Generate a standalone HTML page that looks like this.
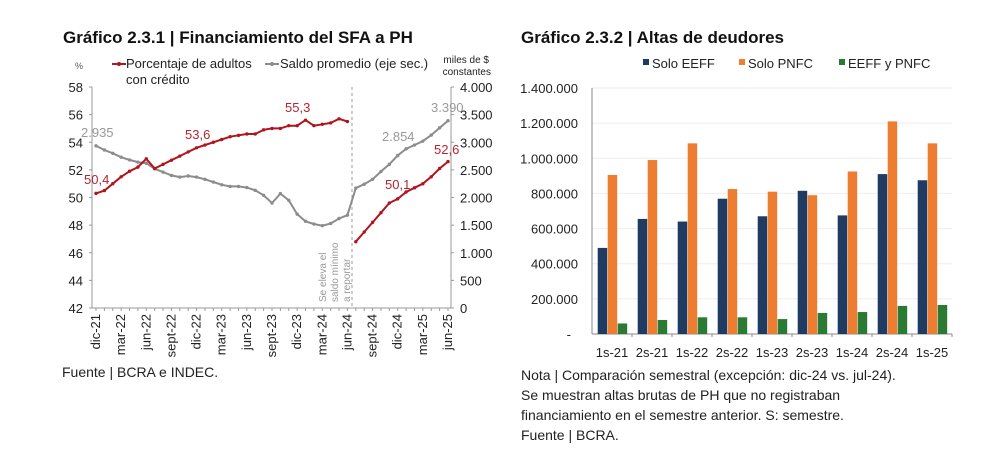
<!DOCTYPE html>
<html><head><meta charset="utf-8"><style>
body{margin:0;background:#fff;width:1008px;height:469px;overflow:hidden;font-family:"Liberation Sans",sans-serif}
svg{position:absolute;left:0;top:0}
</style></head><body>
<svg id="s" width="1008" height="469" xmlns="http://www.w3.org/2000/svg" font-family="Liberation Sans, sans-serif">
<text x="63" y="43" font-size="17" font-weight="bold" fill="#111">Gráfico 2.3.1 | Financiamiento del SFA a PH</text>
<text x="521" y="43" font-size="17" font-weight="bold" fill="#111">Gráfico 2.3.2 | Altas de deudores</text>
<g id="L"></g><g id="R"></g>
<text x="62" y="377" font-size="14" fill="#222">Fuente | BCRA e INDEC.</text>
<g font-size="14" fill="#222">
<text x="521" y="380">Nota | Comparación semestral (excepción: dic-24 vs. jul-24).</text>
<text x="521" y="400">Se muestran altas brutas de PH que no registraban</text>
<text x="521" y="420">financiamiento en el semestre anterior. S: semestre.</text>
<text x="521" y="440">Fuente | BCRA.</text>
</g>
</svg>
<script>
var NS="http://www.w3.org/2000/svg";
function el(p,t,a,txt){var e=document.createElementNS(NS,t);for(var k in a)e.setAttribute(k,a[k]);if(txt!=null)e.textContent=txt;p.appendChild(e);return e;}
var L=document.getElementById("L"),R=document.getElementById("R");
var x0=96,dx=(448-96)/42,yT=87,yB=308;
function yl(v){return yT+(58-v)*(yB-yT)/16;}
function yr(v){return yT+(4000-v)*(yB-yT)/4000;}
function xm(i){return x0+i*dx;}
el(L,"line",{x1:92,y1:yT,x2:92,y2:yB,stroke:"#999"});
el(L,"line",{x1:451,y1:yT,x2:451,y2:yB,stroke:"#999"});
el(L,"line",{x1:92,y1:yB,x2:451,y2:yB,stroke:"#999"});
for(var v=42;v<=58;v+=2){var y=yl(v);el(L,"line",{x1:89,y1:y,x2:92,y2:y,stroke:"#999"});el(L,"text",{x:83,y:y+5,"font-size":13,"text-anchor":"end",fill:"#222"},v);}
var rl=["0","500","1.000","1.500","2.000","2.500","3.000","3.500","4.000"];
for(var i=0;i<9;i++){var y=yr(i*500);el(L,"line",{x1:451,y1:y,x2:454,y2:y,stroke:"#999"});el(L,"text",{x:460,y:y+5,"font-size":13,fill:"#222"},rl[i]);}
for(var i=0;i<=42;i++)el(L,"line",{x1:xm(i),y1:yB,x2:xm(i),y2:yB+3,stroke:"#999"});
var ml=["dic-21","mar-22","jun-22","sept-22","dic-22","mar-23","jun-23","sept-23","dic-23","mar-24","jun-24","sept-24","dic-24","mar-25","jun-25"];
for(var i=0;i<ml.length;i++){var x=xm(i*3)+4;el(L,"text",{x:0,y:0,"font-size":13,"text-anchor":"end",fill:"#222",transform:"translate("+x+","+(yB+6)+") rotate(-90)"},ml[i]);}
el(L,"line",{x1:352,y1:yT,x2:352,y2:yB,stroke:"#999","stroke-dasharray":"3,3"});
var nt=["Se eleva el","saldo mínimo","a reportar"];
for(var i=0;i<3;i++)el(L,"text",{x:0,y:0,"font-size":10,fill:"#999",transform:"translate("+(326+i*12)+",302) rotate(-90)"},nt[i]);
var red1=[50.3,50.5,51.0,51.5,51.9,52.2,52.8,52.1,52.4,52.7,53.0,53.3,53.6,53.8,54.0,54.2,54.4,54.5,54.6,54.6,54.9,55.0,55.0,55.2,55.2,55.6,55.2,55.3,55.4,55.7,55.5];
var red2=[46.8,47.5,48.2,48.9,49.6,49.9,50.4,50.7,51.0,51.5,52.1,52.6];
var g1=[2935,2860,2800,2730,2680,2640,2620,2520,2460,2400,2370,2390,2370,2330,2280,2230,2200,2200,2180,2130,2040,1900,2070,1950,1700,1570,1520,1490,1530,1620,1680];
var g2=[2170,2240,2330,2470,2600,2760,2880,2950,3020,3130,3260,3390];
function line(arr,off,fy,col){var p=arr.map(function(v,i){return xm(i+off).toFixed(1)+","+fy(v).toFixed(1)}).join(" ");el(L,"polyline",{points:p,fill:"none",stroke:col,"stroke-width":2});arr.forEach(function(v,i){el(L,"circle",{cx:xm(i+off),cy:fy(v),r:1.7,fill:col});});}
line(g1.concat(g2),0,yr,"#8c8c8c");
line(red1,0,yl,"#b0141c");line(red2,31,yl,"#b0141c");
function lab(x,y,t,c){el(L,"text",{x:x,y:y,"font-size":13,fill:c},t);}
lab(84,184,"50,4","#b52630");lab(185,139,"53,6","#b52630");lab(285,112,"55,3","#b52630");lab(385,189,"50,1","#b52630");lab(434,154,"52,6","#b52630");
lab(81,137,"2.935","#999");lab(382,141,"2.854","#999");lab(431,112,"3.390","#999");
el(L,"line",{x1:112,y1:64,x2:126,y2:64,stroke:"#b0141c","stroke-width":2});el(L,"circle",{cx:119,cy:64,r:2,fill:"#b0141c"});
lab(126,68,"Porcentaje de adultos","#222");lab(126,84,"con crédito","#222");
el(L,"line",{x1:265,y1:64,x2:279,y2:64,stroke:"#8c8c8c","stroke-width":2});el(L,"circle",{cx:272,cy:64,r:2,fill:"#8c8c8c"});
lab(280,68,"Saldo promedio (eje sec.)","#222");
el(L,"text",{x:75,y:69,"font-size":9,fill:"#555"},"%");
el(L,"text",{x:489,y:63,"font-size":10,fill:"#222","text-anchor":"end"},"miles de $");
el(L,"text",{x:491,y:75,"font-size":10,fill:"#222","text-anchor":"end"},"constantes");
var bx0=592,bx1=952,by0=334,byT=88;
function yb(v){return by0-v*(by0-byT)/1400;}
var yl2=["-","200.000","400.000","600.000","800.000","1.000.000","1.200.000","1.400.000"];
for(var i=0;i<8;i++){var y=yb(i*200);if(i>0)el(R,"line",{x1:bx0,y1:y,x2:bx1,y2:y,stroke:"#eee"});el(R,"text",{x:i==0?571:578,y:y+5,"font-size":13,"text-anchor":"end",fill:"#222"},yl2[i]);}
el(R,"line",{x1:bx0,y1:byT,x2:bx0,y2:by0,stroke:"#888"});
el(R,"line",{x1:bx0,y1:by0,x2:bx1,y2:by0,stroke:"#888"});
var B=[490,655,640,770,670,815,675,910,875],O=[905,990,1085,825,810,790,925,1210,1085],G=[60,80,95,95,85,120,125,160,165];
var cats=["1s-21","2s-21","1s-22","2s-22","1s-23","2s-23","1s-24","2s-24","1s-25"];
var cols=["#1f3b61","#ed7d31","#2a7a33"];
for(var i=0;i<9;i++){var gx=bx0+i*40;[B,O,G].forEach(function(a,j){var v=a[i];el(R,"rect",{x:gx+5.7+j*10,y:yb(v),width:9.5,height:by0-yb(v),fill:cols[j]});});
el(R,"line",{x1:gx+40,y1:by0,x2:gx+40,y2:by0+3,stroke:"#888"});
el(R,"text",{x:gx+20,y:357,"font-size":13,"text-anchor":"middle",fill:"#222"},cats[i]);}
var lg=[["Solo EEFF",643],["Solo PNFC",739],["EEFF y PNFC",839]];
lg.forEach(function(l,j){el(R,"rect",{x:l[1],y:59,width:6,height:6,fill:cols[j]});el(R,"text",{x:l[1]+9,y:68,"font-size":13,fill:"#222"},l[0]);});
</script>
</body></html>
